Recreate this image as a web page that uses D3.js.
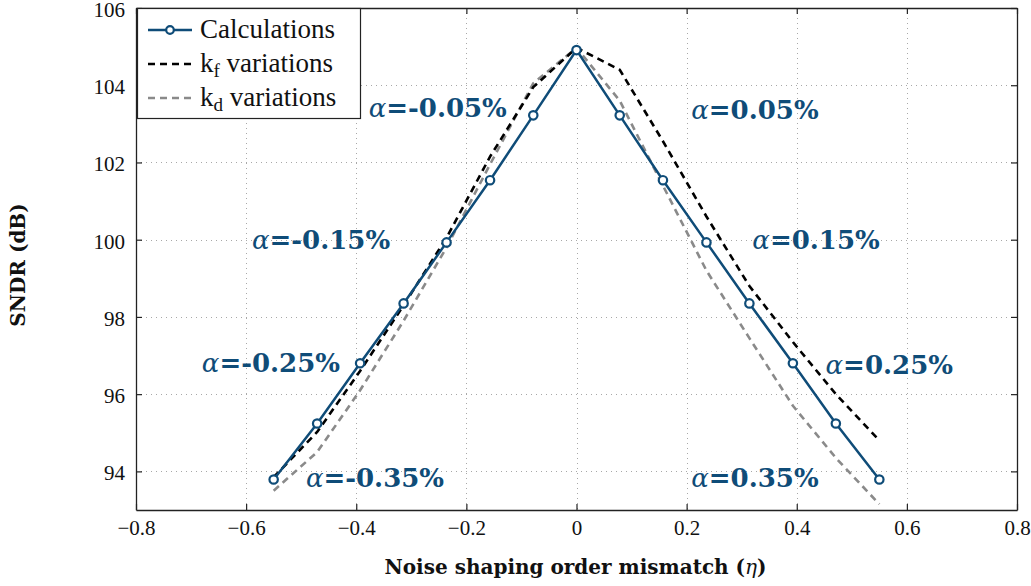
<!DOCTYPE html>
<html>
<head>
<meta charset="utf-8">
<script src="https://cdn.jsdelivr.net/npm/d3@7"></script>
<style>
  body { margin: 0; background: #fff; }
  svg { display: block; }
</style>
</head>
<body>
<svg id="chart" width="1031" height="586"></svg>
<script>
// Noise shaping order mismatch (eta) for alpha = -0.35% ... +0.35% in 0.05% steps
const eta = [-0.55, -0.471, -0.393, -0.314, -0.236, -0.157, -0.0785, 0,
             0.0785, 0.157, 0.236, 0.314, 0.393, 0.471, 0.55];

// SNDR (dB)
const calculations = [93.79, 95.24, 96.80, 98.35, 99.93, 101.54, 103.22, 104.91,
                      103.22, 101.54, 99.93, 98.35, 96.80, 95.24, 93.79];
const kfVariations = [93.85, 95.02, 96.6, 98.3, 100.05, 102.15, 103.95, 104.97,
                      104.4, 102.55, 100.6, 98.8, 97.35, 96.0, 94.8];
const kdVariations = [93.5, 94.5, 96.1, 97.9, 99.8, 101.95, 104.05, 104.97,
                      103.6, 101.4, 99.2, 97.45, 95.7, 94.35, 93.15];

const xTicks = [-0.8, -0.6, -0.4, -0.2, 0, 0.2, 0.4, 0.6, 0.8];
const yTicks = [94, 96, 98, 100, 102, 104, 106];

// alpha annotations, anchored in data units (eta, dB)
const alphaLabels = ["-0.05%", "0.05%", "-0.15%", "0.15%", "-0.25%", "0.25%", "-0.35%", "0.35%"];
const alphaEta    = [-0.252, 0.324, -0.464, 0.435, -0.555, 0.568, -0.366, 0.324];
const alphaDb     = [103.4, 103.35, 99.98, 99.98, 96.8, 96.75, 93.82, 93.82];

const legendLabels = ["Calculations", "k_f variations", "k_d variations"];

const blue = "#0f4c78";
const roman = "'Liberation Serif', 'DejaVu Serif', serif";
const heavy = "'DejaVu Serif', 'Liberation Serif', serif";

const svg = d3.select("#chart");
const pLeft = 136, pRight = 1017, pTop = 8, pBottom = 510;

const x = d3.scaleLinear().domain([-0.8, 0.8]).range([pLeft, pRight]);
const y = d3.scaleLinear().domain([93, 106]).range([pBottom, pTop]);

// dotted grid
const grid = svg.append("g").attr("stroke", "#a8a8a8").attr("stroke-width", 1)
  .attr("stroke-dasharray", "1,4");
grid.selectAll(".gx").data(xTicks.slice(1, -1)).join("line")
  .attr("x1", d => Math.round(x(d)) + 0.5).attr("x2", d => Math.round(x(d)) + 0.5)
  .attr("y1", pTop).attr("y2", pBottom);
grid.selectAll(".gy").data(yTicks.filter(d => d < 106)).join("line")
  .attr("y1", d => Math.round(y(d)) + 0.5).attr("y2", d => Math.round(y(d)) + 0.5)
  .attr("x1", pLeft).attr("x2", pRight);

// axes with inward ticks on all four sides
const fmtX = d => d === 0 ? "0" : d3.format(".1f")(d).replace("-", "\u2212");
const xAxis = svg.append("g").attr("transform", `translate(0,${pBottom})`)
  .call(d3.axisBottom(x).tickValues(xTicks).tickFormat(fmtX).tickSizeInner(-6).tickSizeOuter(0).tickPadding(10));
const xAxisTop = svg.append("g").attr("transform", `translate(0,${pTop})`)
  .call(d3.axisTop(x).tickValues(xTicks).tickFormat("").tickSizeInner(-6).tickSizeOuter(0));
const yAxis = svg.append("g").attr("transform", `translate(${pLeft},0)`)
  .call(d3.axisLeft(y).tickValues(yTicks).tickSizeInner(-6).tickSizeOuter(0).tickPadding(11));
const yAxisRight = svg.append("g").attr("transform", `translate(${pRight},0)`)
  .call(d3.axisRight(y).tickValues(yTicks).tickFormat("").tickSizeInner(-6).tickSizeOuter(0));

[xAxis, xAxisTop, yAxis, yAxisRight].forEach(g => {
  g.select(".domain").attr("stroke", "#222").attr("stroke-width", 1.3);
  g.selectAll(".tick line").attr("stroke", "#222").attr("stroke-width", 1.2);
  g.selectAll("text").attr("font-family", roman).attr("font-size", 21).attr("fill", "#111");
});
yAxis.selectAll(".tick text").attr("dy", "0.4em");

// axis titles
const xTitle = svg.append("text").attr("x", (pLeft + pRight) / 2 - 1).attr("y", 574)
  .attr("text-anchor", "middle").attr("font-family", heavy).attr("font-size", 20)
  .attr("font-weight", "bold").attr("fill", "#111");
xTitle.append("tspan").text("Noise shaping order mismatch (");
xTitle.append("tspan").attr("font-style", "italic").attr("font-weight", "normal").text("\u03B7");
xTitle.append("tspan").text(")");
svg.append("text").attr("transform", `translate(25,${(pTop + pBottom) / 2 + 6}) rotate(-90)`)
  .attr("text-anchor", "middle").attr("font-family", heavy).attr("font-size", 20)
  .attr("font-weight", "bold").attr("fill", "#111").text("SNDR (dB)");

const line = d3.line().x((d, i) => x(eta[i])).y(d => y(d));
const plot = svg.append("g");

plot.append("path").datum(kdVariations).attr("d", line)
  .attr("fill", "none").attr("stroke", "#8a8a8a").attr("stroke-width", 2.6)
  .attr("stroke-dasharray", "7,5");
plot.append("path").datum(kfVariations).attr("d", line)
  .attr("fill", "none").attr("stroke", "#000").attr("stroke-width", 2.6)
  .attr("stroke-dasharray", "7,5");
plot.append("path").datum(calculations).attr("d", line)
  .attr("fill", "none").attr("stroke", blue).attr("stroke-width", 2.5);
plot.selectAll(".pt").data(calculations).join("circle")
  .attr("cx", (d, i) => x(eta[i])).attr("cy", d => y(d)).attr("r", 4.2)
  .attr("fill", "#fff").attr("stroke", blue).attr("stroke-width", 2.2);

// alpha annotations
const ann = svg.append("g").attr("font-family", heavy).attr("fill", blue)
  .attr("font-size", 26);
alphaLabels.forEach((lab, i) => {
  const t = ann.append("text").attr("x", x(alphaEta[i])).attr("y", y(alphaDb[i]))
    .attr("text-anchor", "middle").attr("dominant-baseline", "central");
  t.append("tspan").attr("font-style", "italic").text("\u03B1");
  t.append("tspan").attr("font-weight", "bold").text("=" + lab);
});

// legend
const lg = svg.append("g");
lg.append("rect").attr("x", 137.5).attr("y", 8.5).attr("width", 223).attr("height", 110)
  .attr("fill", "#fff").attr("stroke", "#222").attr("stroke-width", 1.2);
const rows = [30, 64, 98];
const styles = [
  { stroke: blue, dash: null },
  { stroke: "#000", dash: "7,5" },
  { stroke: "#8a8a8a", dash: "7,5" }
];
legendLabels.forEach((lab, i) => {
  lg.append("line").attr("x1", 148).attr("x2", 192).attr("y1", rows[i]).attr("y2", rows[i])
    .attr("stroke", styles[i].stroke).attr("stroke-width", 2.6)
    .attr("stroke-dasharray", styles[i].dash);
  if (i === 0) {
    lg.append("circle").attr("cx", 170).attr("cy", rows[i]).attr("r", 3.8)
      .attr("fill", "#fff").attr("stroke", blue).attr("stroke-width", 2.2);
  }
  const t = lg.append("text").attr("x", 200).attr("y", rows[i] + 8)
    .attr("font-family", roman).attr("font-size", 27).attr("fill", "#111");
  const parts = lab.split("_");
  if (parts.length === 1) {
    t.text(lab);
  } else {
    t.append("tspan").text(parts[0]);
    const rest = parts[1].split(" ");
    t.append("tspan").attr("font-size", 19).attr("dy", 5).text(rest[0]);
    t.append("tspan").attr("dy", -5).text(" " + rest.slice(1).join(" "));
  }
});
</script>
</body>
</html>
